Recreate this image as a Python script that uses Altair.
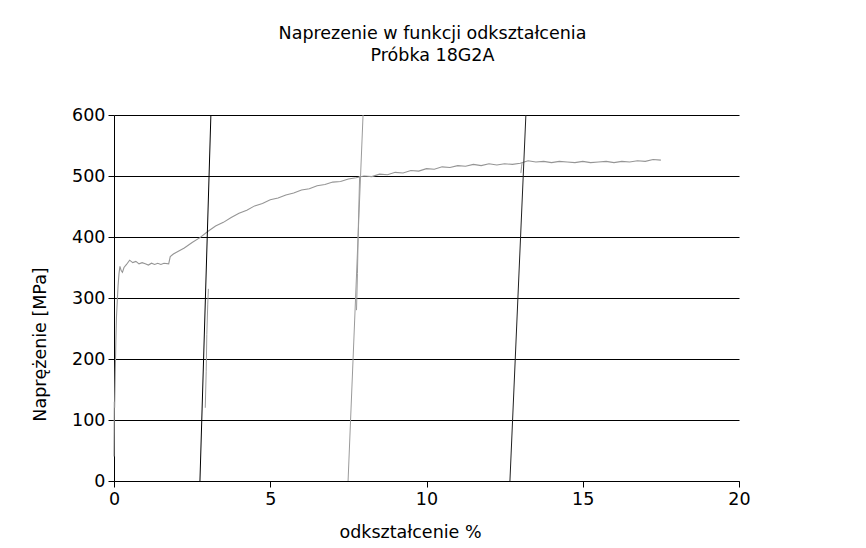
import altair as alt
import pandas as pd

# main stress-strain curve (strain %, stress MPa)
curve_x = [0.0, 0.01, 0.02, 0.04, 0.06, 0.08, 0.10, 0.13, 0.16, 0.19, 0.23, 0.27, 0.32, 0.40, 0.50,
           0.60, 0.70, 0.80, 0.90, 1.00, 1.10, 1.20, 1.30, 1.40, 1.50, 1.60, 1.75,
           1.80, 1.90, 2.00, 2.25, 2.50, 2.75, 3.00, 3.25, 3.50, 3.75, 4.00, 4.25, 4.50, 4.75,
           5.00, 5.25, 5.50, 5.75, 6.00, 6.25, 6.50, 6.75, 7.00, 7.25, 7.50, 7.75, 8.00, 8.25,
           8.50, 8.75, 9.00, 9.25, 9.50, 9.75, 10.0, 10.25, 10.5, 10.75, 11.0, 11.25, 11.5, 11.75,
           12.0, 12.25, 12.5, 12.75, 13.0, 13.25, 13.5, 13.75, 14.0, 14.25, 14.5, 14.75, 15.0,
           15.25, 15.5, 15.75, 16.0, 16.25, 16.5, 16.75, 17.0, 17.25, 17.5]
curve_y = [40, 130, 120, 180, 230, 270, 290, 320, 340, 352, 345, 342, 350, 355, 362,
           358, 360, 356, 358, 356, 354, 357, 355, 357, 355, 357, 356,
           368, 372, 375, 382, 391, 399, 409, 418, 424, 432, 439, 444, 451, 455,
           461, 464, 469, 472, 477, 479, 484, 486, 490, 491, 495, 497, 500, 499,
           503, 502, 506, 505, 509, 508, 512, 511, 515, 514, 517, 516, 519, 517,
           520, 518, 520, 519, 521, 525, 523, 524, 522, 524, 523, 522, 524,
           522, 523, 524, 522, 524, 523, 525, 524, 527, 526]

# small reloading fragments of the measured curve
frag1_x = [2.92, 2.95, 2.97, 3.00, 3.02]
frag1_y = [120, 180, 240, 290, 315]
frag2_x = [7.76, 7.79, 7.82, 7.86]
frag2_y = [280, 340, 420, 500]
frag3_x = [13.02, 13.04, 13.06]
frag3_y = [505, 515, 522]

# straight elastic lines (strain at 0 MPa and at 600 MPa)
lines_x0 = [2.75, 7.49, 12.67]
lines_x1 = [3.10, 7.97, 13.18]
line_colors = ["#000000", "#9a9a9a", "#202020"]

FONT = "DejaVu Sans"
FS = 17.5

curve = pd.DataFrame({"x": curve_x, "y": curve_y, "i": range(len(curve_x))})

xs = alt.Scale(domain=[0, 20], nice=False)
ys = alt.Scale(domain=[0, 600], nice=False)

xax = alt.Axis(values=[0, 5, 10, 15, 20], grid=False, title="odkształcenie %",
               titleX=296, titleY=51, titleBaseline="middle", titleFontWeight="normal",
               titleFontSize=FS, labelFontSize=FS, labelPadding=3, tickSize=6, labelFlush=False,
               domainColor="black", tickColor="black", labelColor="black", titleColor="black",
               labelFont=FONT, titleFont=FONT)
yax = alt.Axis(values=[0, 100, 200, 300, 400, 500, 600], grid=True, gridColor="black",
               gridOpacity=1, gridWidth=1, title="Naprężenie [MPa]", titleX=-74, titleY=229,
               titleFontWeight="normal", titleFontSize=FS, titleBaseline="middle",
               labelFontSize=FS, labelPadding=3, tickSize=6, labelFlush=False,
               domainColor="black", tickColor="black", labelColor="black", titleColor="black",
               labelFont=FONT, titleFont=FONT)

base_curve = alt.Chart(curve).mark_line(color="#959595", strokeWidth=1.1).encode(
    x=alt.X("x:Q", scale=xs, axis=xax),
    y=alt.Y("y:Q", scale=ys, axis=yax),
    order="i:Q",
)

layers = [base_curve]
for fx, fy in [(frag1_x, frag1_y), (frag2_x, frag2_y), (frag3_x, frag3_y)]:
    df = pd.DataFrame({"x": fx, "y": fy, "i": range(len(fx))})
    layers.append(alt.Chart(df).mark_line(color="#999999", strokeWidth=1).encode(
        x=alt.X("x:Q", scale=xs), y=alt.Y("y:Q", scale=ys), order="i:Q"))

for x0, x1, c in zip(lines_x0, lines_x1, line_colors):
    df = pd.DataFrame({"x": [x0, x1], "y": [0, 600], "i": [0, 1]})
    layers.append(alt.Chart(df).mark_line(color=c, strokeWidth=1).encode(
        x=alt.X("x:Q", scale=xs), y=alt.Y("y:Q", scale=ys), order="i:Q"))

chart = alt.layer(*layers).properties(
    width=625, height=366,
    background="white",
    title=alt.TitleParams(["Naprezenie w funkcji odkształcenia", "Próbka 18G2A"],
                          font=FONT, fontSize=FS, fontWeight="normal", color="black",
                          anchor="middle", offset=42, dx=6, lineHeight=22),
    autosize=alt.AutoSizeParams(type="none"),
    padding={"left": 106, "top": 107, "right": 100, "bottom": 60},
).configure_view(stroke=None)

chart.save("out.html", embed_options={"renderer": "svg", "actions": False})
